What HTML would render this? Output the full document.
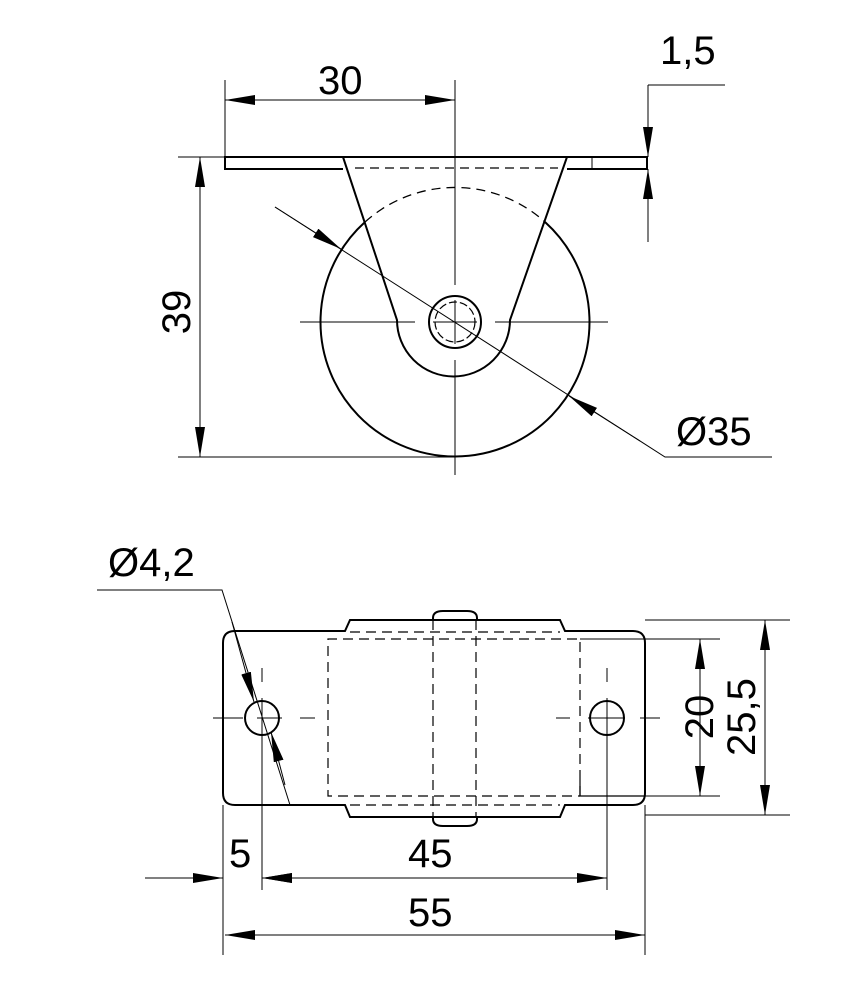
<!DOCTYPE html>
<html><head><style>body{margin:0;background:#fff}svg{display:block}</style></head><body>
<svg width="868" height="1000" viewBox="0 0 868 1000" xmlns="http://www.w3.org/2000/svg">
<defs>
<marker id="a" viewBox="0 0 30 10" refX="30" refY="5" markerWidth="30" markerHeight="10" markerUnits="userSpaceOnUse" orient="auto-start-reverse"><path d="M0,0 L30,5 L0,10 z" fill="#000"/></marker>
</defs>
<g fill="none" stroke="#000" stroke-width="1.3">
<!-- top view -->
<path d="M365,222 A134.5,134.5 0 1 0 545,222" stroke-width="2"/>
<path d="M365,222 A134.5,134.5 0 0 1 545,222" stroke-dasharray="9,6" stroke-width="1.3"/>
<path d="M567,169 H647 V157 H225 V169 H343" stroke-width="2"/>
<path d="M355,168 H558" stroke-dasharray="9,6" stroke-width="1.3"/>
<path d="M343,157 L397,320 A56,56 0 0 0 510,320 L567,157" stroke-width="2"/>
<circle cx="455" cy="322" r="26" stroke-width="2" fill="#fff"/>
<circle cx="455" cy="322" r="20" stroke-dasharray="8,3" stroke-width="1.2"/>
<path d="M300,322 H415 M495,322 H608 M455,80 V285 M455,360 V475 M433,322 H477 M455,300 V344" stroke-width="1"/>
<path d="M592,157 V169" stroke-width="1"/>
<!-- 30 -->
<path d="M225,80 V157" stroke-width="1"/>
<path d="M225,100 H455" marker-start="url(#a)" marker-end="url(#a)" stroke-width="1"/>
<!-- 1,5 -->
<path d="M648,85 H725 M648,85 V157 M648,169 V242" stroke-width="1"/>
<path d="M648,120 V157" marker-end="url(#a)" stroke-width="1"/>
<path d="M648,208 V169" marker-end="url(#a)" stroke-width="1"/>
<!-- 39 -->
<path d="M178,157 H225 M178,457 H455" stroke-width="1"/>
<path d="M200,157 V457" marker-start="url(#a)" marker-end="url(#a)" stroke-width="1"/>
<!-- Ø35 -->
<path d="M275,207 L665,457 H772" stroke-width="1"/>
<path d="M275,207 L341,249" marker-end="url(#a)" stroke-width="1"/>
<path d="M640,441 L569,396" marker-end="url(#a)" stroke-width="1"/>
<!-- bottom view -->
<path d="M433,620 V618 Q433,611 443,611 H467 Q477,611 477,618 V620 M433,817 V819 Q433,826 443,826 H467 Q477,826 477,819 V817" stroke-width="2"/>
<path d="M345,631 H235 Q223,631 223,643 V793 Q223,805 235,805 H345 L350,817 H560 L565,805 H633 Q645,805 645,793 V643 Q645,631 633,631 H565 L560,620 H350 Z" stroke-width="2"/>
<path d="M350,632 H560 M350,805 H560" stroke-dasharray="10,6" stroke-width="1.2"/>
<path d="M580,796 V639 H328 V796 H580" stroke-dasharray="10,6" stroke-width="1.2"/>
<path d="M580,780 V796 H645" stroke-width="1.2"/>
<path d="M433,620 V817 M476,620 V817" stroke-dasharray="10,6" stroke-width="1.2"/>
<circle cx="262" cy="718" r="17" stroke-width="2"/>
<circle cx="607" cy="718" r="17" stroke-width="2"/>
<path d="M213,718 H243 M257,718 H282 M300,718 H315 M556,718 H570 M588,718 H625 M640,718 H660 M262,668 V682 M262,698 V890 M607,668 V682 M607,698 V890" stroke-width="1"/>
<!-- Ø4,2 -->
<path d="M97,590 H222 L290,805" stroke-width="1"/>
<path d="M232,622 L254,702" marker-end="url(#a)" stroke-width="1"/>
<path d="M285,785 L271,732" marker-end="url(#a)" stroke-width="1"/>
<!-- 20 / 25,5 -->
<path d="M580,639 H720 M645,796 H720 M645,620 H790 M645,815 H790" stroke-width="1"/>
<path d="M700,639 V796" marker-start="url(#a)" marker-end="url(#a)" stroke-width="1"/>
<path d="M765,620 V815" marker-start="url(#a)" marker-end="url(#a)" stroke-width="1"/>
<!-- 5, 45, 55 -->
<path d="M223,805 V955 M645,805 V955" stroke-width="1"/>
<path d="M145,878 H223" marker-end="url(#a)" stroke-width="1"/>
<path d="M305,878 H262" marker-end="url(#a)" stroke-width="1"/>
<path d="M262,878 H607" marker-start="url(#a)" marker-end="url(#a)" stroke-width="1"/>
<path d="M225,935 H645" marker-start="url(#a)" marker-end="url(#a)" stroke-width="1"/>
</g>
<g font-family="Liberation Sans, sans-serif" font-size="40" fill="#000">
<text x="318" y="94">30</text>
<text x="660" y="64">1,5</text>
<text x="190" y="312" text-anchor="middle" transform="rotate(-90 190 312)">39</text>
<text x="676" y="445">Ø35</text>
<text x="108" y="576">Ø4,2</text>
<text x="700" y="717" text-anchor="middle" transform="rotate(-90 700 717) translate(0,13)">20</text>
<text x="760" y="717" text-anchor="middle" transform="rotate(-90 760 717) translate(0,-5)">25,5</text>
<text x="229" y="867">5</text>
<text x="408" y="867">45</text>
<text x="408" y="926">55</text>
</g>
</svg>
</body></html>
